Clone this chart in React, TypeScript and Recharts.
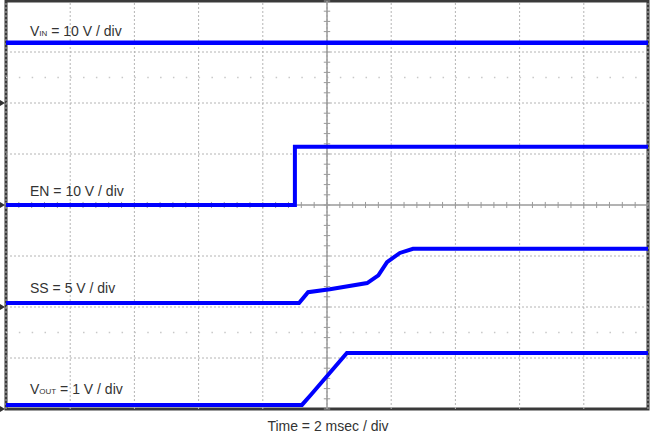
import { LineChart, Line, XAxis, YAxis, ReferenceLine, ReferenceDot, ReferenceArea } from "recharts"

// scope graticule: 10 div x 2 ms, 8 vertical div
const timeTicks = [0, 2, 4, 6, 8, 10, 12, 14, 16, 18, 20]
const divTicks = [1, 2, 3, 5, 6, 7]
const dotRows = [1.5, 6.5]
const channelMarkers = [6, 4, 2, 0]

// traces (time in ms, level in screen divisions)
const vinTime = [0, 20]
const vinLevel = [7.18, 7.18]

const enTime = [0, 9.0, 9.0, 20]
const enLevel = [4.0, 4.0, 5.14, 5.14]

const ssTime = [0, 9.13, 9.41, 10.09, 11.25, 11.6, 11.87, 12.27, 12.68, 20]
const ssLevel = [2.08, 2.08, 2.29, 2.35, 2.47, 2.62, 2.88, 3.06, 3.14, 3.14]

const voutTime = [0, 9.22, 9.5, 10.62, 20]
const voutLevel = [0.08, 0.08, 0.28, 1.1, 1.1]

const toSeries = (t: number[], v: number[]) => t.map((x, i) => ({ t: x, v: v[i] }))

const vin = toSeries(vinTime, vinLevel)
const en = toSeries(enTime, enLevel)
const ss = toSeries(ssTime, ssLevel)
const vout = toSeries(voutTime, voutLevel)

const minorX = Array.from({ length: 51 }, (_, i) => i * 0.4)
const minorY = Array.from({ length: 41 }, (_, i) => i * 0.2)

const TRACE = "#0000ff"
const FONT = "'Liberation Sans', Arial, sans-serif"

const Marker = (p: any) => (
  <path d={`M${p.cx - 6},${p.cy - 3} L${p.cx - 1},${p.cy} L${p.cx - 6},${p.cy + 3} Z`} fill="#333" />
)

export default function App() {
  return (
    <div style={{ position: "absolute", left: 0, top: 0, width: 651, height: 434, background: "#fff" }}>
      <LineChart width={651} height={434} margin={{ top: 1, right: 3, bottom: 25, left: 6 }}>
        <XAxis type="number" dataKey="t" domain={[0, 20]} hide allowDataOverflow />
        <YAxis type="number" dataKey="v" domain={[0, 8]} hide allowDataOverflow />

        {timeTicks.map((t) => (
          <ReferenceLine key={`gx${t}`} x={t} stroke="#b4b4b4" strokeDasharray="2 2" />
        ))}
        {divTicks.map((d) => (
          <ReferenceLine key={`gy${d}`} y={d} stroke="#b4b4b4" strokeDasharray="2 2" />
        ))}
        {dotRows.map((d) => (
          <ReferenceLine key={`dr${d}`} y={d} stroke="#c8c8c8" strokeWidth={1.5} strokeDasharray="1.5 11.34" />
        ))}

        {/* center crosshair with minor ticks */}
        <ReferenceLine x={10} stroke="#9a9a9a" strokeWidth={1.5} />
        <ReferenceLine y={4} stroke="#9a9a9a" strokeWidth={1.5} />
        {minorY.map((y) => (
          <ReferenceLine key={`my${y}`} segment={[{ x: 9.9, y }, { x: 10.1, y }]} stroke="#9a9a9a" />
        ))}
        {minorX.map((x) => (
          <ReferenceLine key={`mx${x}`} segment={[{ x, y: 3.94 }, { x, y: 4.06 }]} stroke="#9a9a9a" />
        ))}

        <ReferenceArea x1={0} x2={20} y1={0} y2={8} fill="none" stroke="#3a3a3a" strokeWidth={3} ifOverflow="visible" />
        {channelMarkers.map((m) => (
          <ReferenceDot key={`cm${m}`} x={0} y={m} r={3} ifOverflow="visible" shape={Marker} />
        ))}

        <Line data={vin} dataKey="v" stroke={TRACE} strokeWidth={4.5} dot={false} isAnimationActive={false} />
        <Line data={en} dataKey="v" stroke={TRACE} strokeWidth={4} dot={false} isAnimationActive={false} />
        <Line data={ss} dataKey="v" stroke={TRACE} strokeWidth={4} dot={false} isAnimationActive={false} />
        <Line data={vout} dataKey="v" stroke={TRACE} strokeWidth={4} dot={false} isAnimationActive={false} />
      </LineChart>

      <svg width={651} height={434} style={{ position: "absolute", left: 0, top: 0, pointerEvents: "none" }}>
        <g fontFamily={FONT} fontSize={14} fill="#333">
          <text x={30} y={36}>
            V<tspan fontSize={8}>IN</tspan> = 10 V / div
          </text>
          <text x={30} y={196}>EN = 10 V / div</text>
          <text x={30} y={293}>SS = 5 V / div</text>
          <text x={30} y={394}>
            V<tspan fontSize={8}>OUT</tspan> = 1 V / div
          </text>
          <text x={328} y={431} textAnchor="middle">Time = 2 msec / div</text>
        </g>
      </svg>
    </div>
  )
}
